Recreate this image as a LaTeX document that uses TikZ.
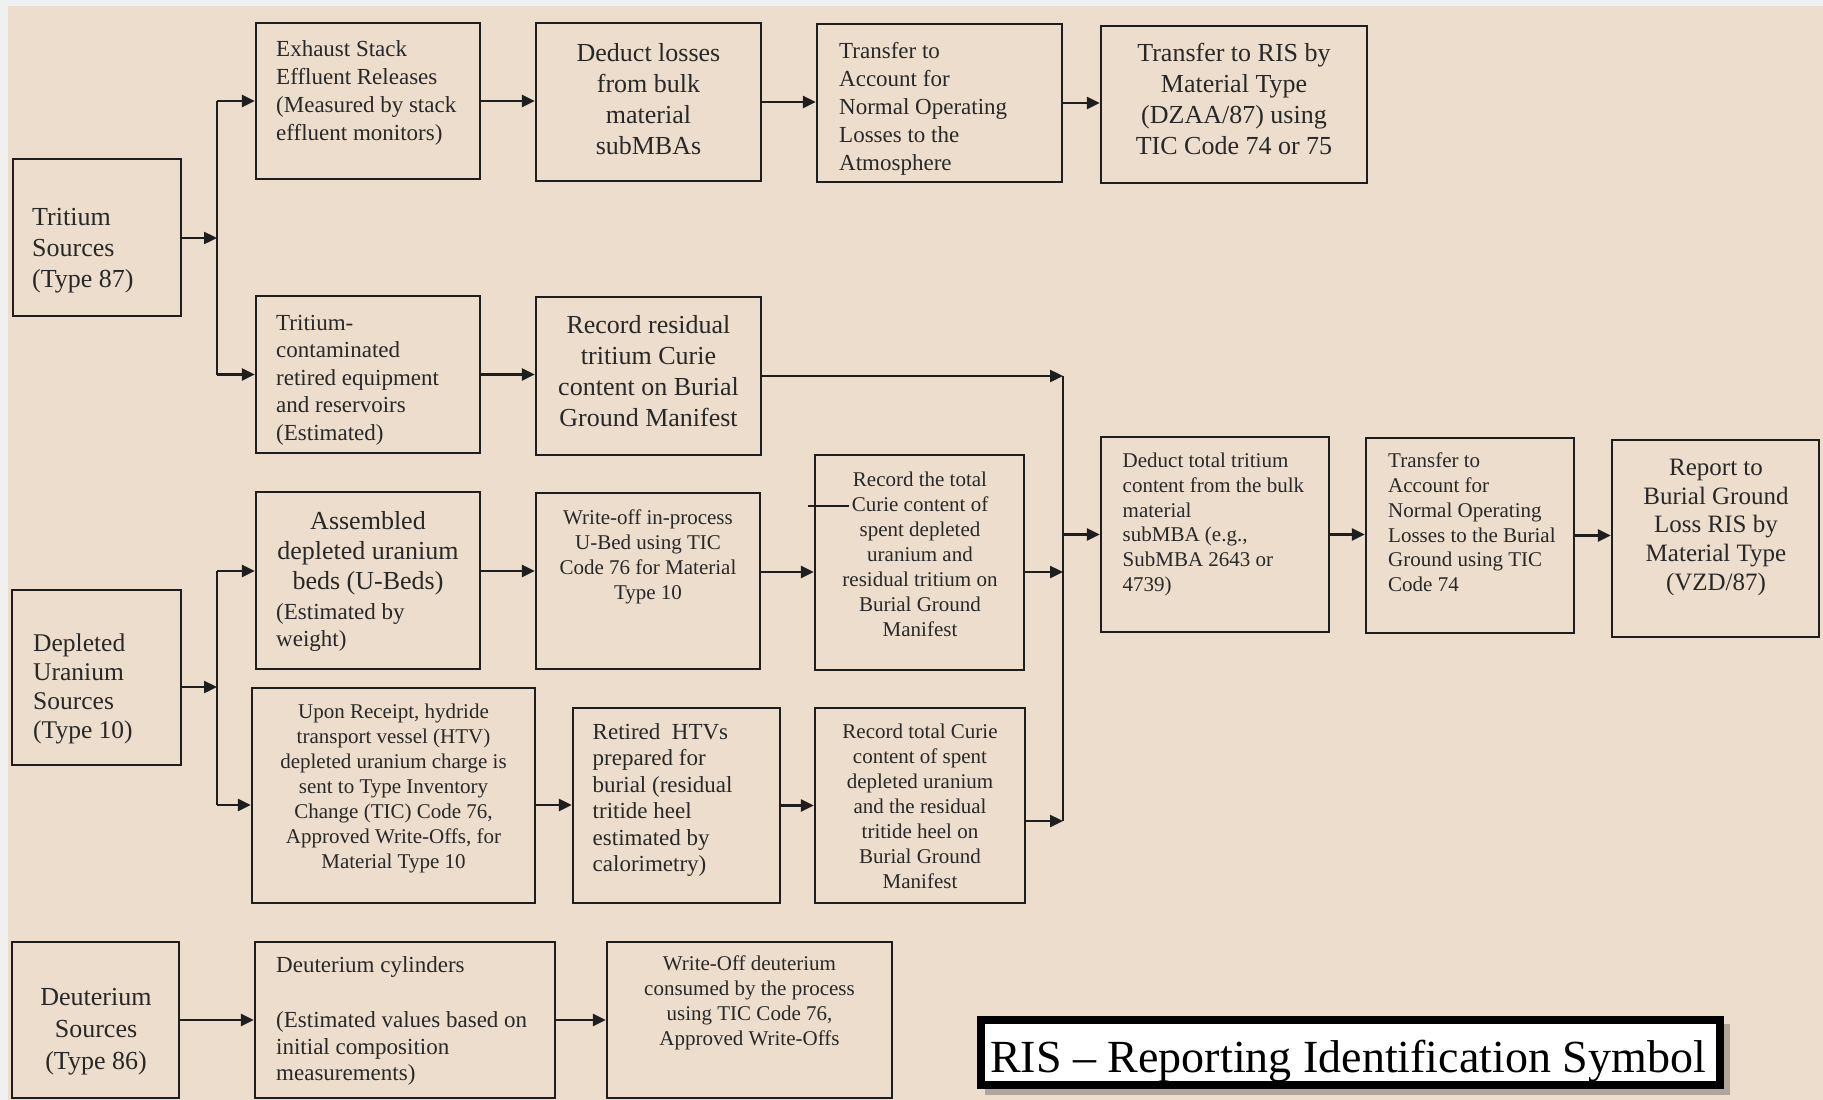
\documentclass[tikz,border=0pt]{standalone}
\usepackage{fontspec}
\setmainfont{Liberation Serif}
\usetikzlibrary{arrows.meta}
\definecolor{bg}{RGB}{237,221,204}
\definecolor{margin}{RGB}{240,240,240}
\definecolor{linec}{RGB}{30,30,30}
\definecolor{textc}{RGB}{40,40,40}
\begin{document}
\begin{tikzpicture}[x=1pt,y=-1pt,
  box/.style={draw=linec, line width=2.3pt, inner sep=0pt},
  arr/.style={draw=linec, line width=2.4pt, -{Triangle[length=13pt,width=12pt]}},
  ln/.style={draw=linec, line width=2.4pt},
  tl/.style={inner sep=0pt, align=left, anchor=north west, text=textc},
  tc/.style={inner sep=0pt, align=center, anchor=north, text=textc},
  fA/.style={font=\fontsize{26}{31}\selectfont},
  fB/.style={font=\fontsize{23}{28}\selectfont},
  fC/.style={font=\fontsize{21}{25}\selectfont}]
\useasboundingbox (0,0) rectangle (1823,1100);
\fill[margin] (0,0) rectangle (1823,1100);
\fill[bg] (8,6) rectangle (1823,1100);

% boxes
\node[box, minimum width=168pt, minimum height=157pt] (tsrc) at (97,237.5) {};
\node[box, minimum width=224pt, minimum height=156pt] (exh) at (368,101) {};
\node[box, minimum width=225pt, minimum height=158pt] (ded) at (648.5,102) {};
\node[box, minimum width=245pt, minimum height=158pt] (tatm) at (939.5,103) {};
\node[box, minimum width=266pt, minimum height=157pt] (tris) at (1234,104.5) {};
\node[box, minimum width=224pt, minimum height=157pt] (cont) at (368,374.5) {};
\node[box, minimum width=225pt, minimum height=158pt] (rres) at (648.5,376) {};
\node[box, minimum width=224pt, minimum height=177pt] (asm) at (368,580.5) {};
\node[box, minimum width=224pt, minimum height=176pt] (wof) at (648,581) {};
\node[box, minimum width=209pt, minimum height=215pt] (rtot) at (919.5,562.5) {};
\node[box, minimum width=169pt, minimum height=175pt] (dusrc) at (96.5,677.5) {};
\node[box, minimum width=283pt, minimum height=215pt] (upon) at (393.5,795.5) {};
\node[box, minimum width=207pt, minimum height=195pt] (rhtv) at (676.5,805.5) {};
\node[box, minimum width=210pt, minimum height=195pt] (rlow) at (920,805.5) {};
\node[box, minimum width=228pt, minimum height=195pt] (dtt) at (1215,534.5) {};
\node[box, minimum width=208pt, minimum height=195pt] (tbur) at (1470,535.5) {};
\node[box, minimum width=207pt, minimum height=197pt] (rep) at (1715.5,538.5) {};
\node[box, minimum width=167pt, minimum height=156pt] (dsrc) at (95.5,1020) {};
\node[box, minimum width=300pt, minimum height=156pt] (dcyl) at (405,1020) {};
\node[box, minimum width=285pt, minimum height=156pt] (dwo) at (749.5,1020) {};

% legend box with shadow
\fill[black, opacity=0.25] (985,1024) rectangle (1730,1095);
\node[draw=black, line width=8pt, fill=white, inner sep=0pt, minimum width=739pt, minimum height=65pt] (ris) at (1350.5,1052.5) {};
\node[inner sep=0pt, anchor=base, font=\fontsize{46}{50}\selectfont] (ristext) at (1348,1072) {RIS -- Reporting Identification Symbol};

% texts
\node[tl, fA] (t-tsrc) at (32,208) {Tritium\\Sources\\(Type 87)};
\node[tl, fB] (t-exh) at (276,40) {Exhaust Stack\\Effluent Releases\\(Measured by stack\\effluent monitors)};
\node[tc, fA] (t-ded) at (648.5,43) {Deduct losses\\from bulk\\material\\subMBAs};
\node[tl, fB] (t-tatm) at (839,42) {Transfer to\\Account for\\Normal Operating\\Losses to the\\Atmosphere};
\node[tc, fA] (t-tris) at (1234,43) {Transfer to RIS by\\Material Type\\(DZAA/87) using\\TIC Code 74 or 75};
\node[tl, font=\fontsize{23}{27.5}\selectfont] (t-cont) at (276,315) {Tritium-\\contaminated\\retired equipment\\and reservoirs\\(Estimated)};
\node[tc, fA] (t-rres) at (648.5,315) {Record residual\\tritium Curie\\content on Burial\\Ground Manifest};
\node[tc, font=\fontsize{26}{30}\selectfont] (t-asm) at (368,511) {Assembled\\depleted uranium\\beds (U-Beds)};
\node[tl, font=\fontsize{23}{27}\selectfont] (t-asm2) at (276,603) {(Estimated by\\weight)};
\node[tc, fC] (t-wof) at (648,510) {Write-off in-process\\U-Bed using TIC\\Code 76 for Material\\Type 10};
\node[tc, fC] (t-rtot) at (920,472) {Record the total\\Curie content of\\spent depleted\\uranium and\\residual tritium on\\Burial Ground\\Manifest};
\node[tl, font=\fontsize{25.5}{29}\selectfont] (t-dusrc) at (33,634) {Depleted\\Uranium\\Sources\\(Type 10)};
\node[tc, fC] (t-upon) at (393.5,704) {Upon Receipt, hydride\\transport vessel (HTV)\\depleted uranium charge is\\sent to Type Inventory\\Change (TIC) Code 76,\\Approved Write-Offs, for\\Material Type 10};
\node[tl, font=\fontsize{23}{26.5}\selectfont] (t-rhtv) at (592.5,723) {Retired\ \ HTVs\\prepared for\\burial (residual\\tritide heel\\estimated by\\calorimetry)};
\node[tc, fC] (t-rlow) at (920,724) {Record total Curie\\content of spent\\depleted uranium\\and the residual\\tritide heel on\\Burial Ground\\Manifest};
\node[tl, font=\fontsize{21}{24.7}\selectfont] (t-dtt) at (1122.5,453) {Deduct total tritium\\content from the bulk\\material\\subMBA (e.g.,\\SubMBA 2643 or\\4739)};
\node[tl, font=\fontsize{21}{24.7}\selectfont] (t-tbur) at (1388,453) {Transfer to\\Account for\\Normal Operating\\Losses to the Burial\\Ground using TIC\\Code 74};
\node[tc, font=\fontsize{25}{28.7}\selectfont] (t-rep) at (1716,459) {Report to\\Burial Ground\\Loss RIS by\\Material Type\\(VZD/87)};
\node[tc, font=\fontsize{26}{32}\selectfont] (t-dsrc) at (96,988) {Deuterium\\Sources\\(Type 86)};
\node[tl, font=\fontsize{23}{26.5}\selectfont] (t-dcyl) at (276,956) {Deuterium cylinders\\[29pt](Estimated values based on\\initial composition\\measurements)};
\node[tc, fC] (t-dwo) at (749.5,956) {Write-Off deuterium\\consumed by the process\\using TIC Code 76,\\Approved Write-Offs};

% tritium branch
\coordinate (jT) at (217,238);
\draw[arr] (tsrc.east |- jT) -- (jT);
\draw[ln] (jT |- exh.west) -- (jT |- cont.west);
\draw[arr] (jT |- exh.west) -- (exh.west);
\draw[arr] (jT |- cont.west) -- (cont.west);
\draw[arr] (exh.east) -- (exh.east -| ded.west);
\draw[arr] (ded.east) -- (ded.east -| tatm.west);
\draw[arr] (tatm.east) -- (tatm.east -| tris.west);
\draw[arr] (cont.east) -- (cont.east -| rres.west);

% collector
\coordinate (cTop) at (1063,376);
\coordinate (cA) at (1063,572);
\coordinate (cB) at (1063,821);
\coordinate (cOut) at (1063,534.5);
\draw[arr] (rres.east) -- (cTop);
\draw[ln] (cTop) -- (cB);
\draw[arr] (rtot.east |- cA) -- (cA);
\draw[arr] (rlow.east |- cB) -- (cB);
\draw[arr] (cOut) -- (dtt.west);
\draw[arr] (dtt.east) -- (dtt.east -| tbur.west);
\draw[arr] (tbur.east) -- (tbur.east -| rep.west);

% depleted uranium branch
\coordinate (jD) at (217,687);
\coordinate (jDa) at (217,571);
\coordinate (jDb) at (217,805);
\draw[arr] (dusrc.east |- jD) -- (jD);
\draw[ln] (jDa) -- (jDb);
\draw[arr] (jDa) -- (jDa -| asm.west);
\draw[arr] (jDb) -- (jDb -| upon.west);
\draw[arr] (asm.east |- jDa) -- (wof.west |- jDa);
\draw[arr] (wof.east |- cA) -- (rtot.west |- cA);
\draw[arr] (upon.east |- jDb) -- (rhtv.west |- jDb);
\draw[arr] (rhtv.east) -- (rlow.west);
\draw[linec, line width=1.3pt] ([xshift=-6pt]rtot.west |- 0,506) -- ++(41,0);

% deuterium
\draw[arr] (dsrc.east) -- (dcyl.west);
\draw[arr] (dcyl.east) -- (dwo.west);
\end{tikzpicture}
\end{document}
